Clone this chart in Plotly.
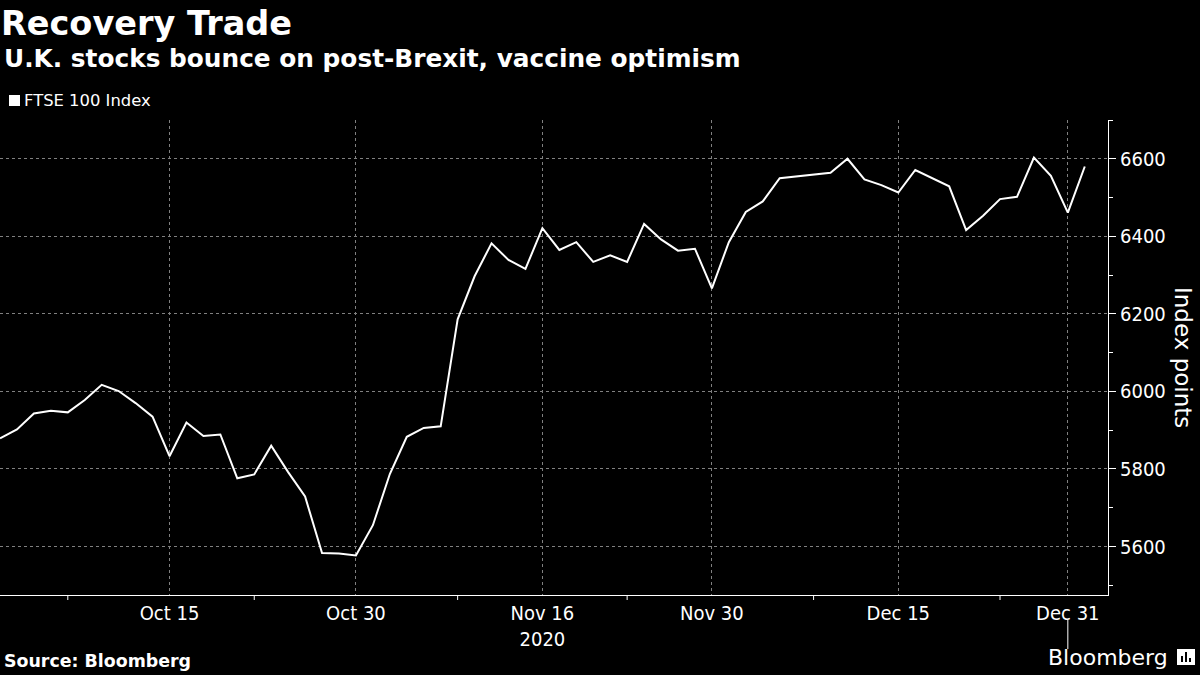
import plotly.graph_objects as go

# FTSE 100 daily closes, trading days only (UK calendar)
dates = [
    "2020-10-01", "2020-10-02", "2020-10-05", "2020-10-06", "2020-10-07", "2020-10-08",
    "2020-10-09", "2020-10-12", "2020-10-13", "2020-10-14", "2020-10-15", "2020-10-16",
    "2020-10-19", "2020-10-20", "2020-10-21", "2020-10-22", "2020-10-23", "2020-10-26",
    "2020-10-27", "2020-10-28", "2020-10-29", "2020-10-30",
    "2020-11-02", "2020-11-03", "2020-11-04", "2020-11-05", "2020-11-06", "2020-11-09",
    "2020-11-10", "2020-11-11", "2020-11-12", "2020-11-13", "2020-11-16", "2020-11-17",
    "2020-11-18", "2020-11-19", "2020-11-20", "2020-11-23", "2020-11-24", "2020-11-25",
    "2020-11-26", "2020-11-27", "2020-11-30",
    "2020-12-01", "2020-12-02", "2020-12-03", "2020-12-04", "2020-12-07", "2020-12-08",
    "2020-12-09", "2020-12-10", "2020-12-11", "2020-12-14", "2020-12-15", "2020-12-16",
    "2020-12-17", "2020-12-18", "2020-12-21", "2020-12-22", "2020-12-23", "2020-12-24",
    "2020-12-29", "2020-12-30", "2020-12-31",
    "2021-01-04",
]
ftse = [
    5879, 5902, 5943, 5950, 5946, 5978, 6017, 6001, 5970, 5935, 5833, 5920,
    5885, 5889, 5776, 5786, 5860, 5792, 5729, 5583, 5582, 5577,
    5655, 5787, 5883, 5906, 5910, 6186, 6297, 6382, 6339, 6316, 6421, 6365,
    6385, 6334, 6351, 6334, 6432, 6392, 6363, 6368, 6266,
    6385, 6463, 6490, 6550, 6555, 6559, 6564, 6600, 6547, 6532, 6513, 6571,
    6551, 6529, 6416, 6453, 6496, 6502, 6603, 6556, 6461,
    6580,
]

tick_dates = ["2020-10-15", "2020-10-30", "2020-11-16", "2020-11-30", "2020-12-15", "2020-12-31"]
tick_labels = ["Oct 15", "Oct 30", "Nov 16<br>2020", "Nov 30", "Dec 15", "Dec 31"]
minor_dates = ["2020-10-07", "2020-10-22", "2020-11-09", "2020-11-23", "2020-12-08", "2020-12-23"]
year_break = "2020-12-31"

W, H = 1200, 675
L, R, T, B = 0, 92, 120, 80
PW, PH = W - L - R, H - T - B


def px(x, y):
    # pixel position -> paper coords
    return (x - L) / PW, (H - B - y) / PH


tick_font = dict(family="DejaVu Sans Condensed, DejaVu Sans", size=20, color="white")
grid = dict(showgrid=True, gridcolor="#808080", gridwidth=1, griddash="dot")

fig = go.Figure()
fig.add_trace(go.Scatter(
    x=dates, y=ftse, mode="lines", name="FTSE 100 Index",
    line=dict(color="white", width=2), showlegend=False,
))

fig.update_layout(
    width=W, height=H,
    margin=dict(l=L, r=R, t=T, b=B),
    paper_bgcolor="black", plot_bgcolor="black",
    xaxis=dict(
        type="category", range=[0, 65.37],
        tickmode="array", tickvals=tick_dates, ticktext=tick_labels,
        ticks="", showline=True, linecolor="white", linewidth=1,
        tickfont=tick_font, zeroline=False, **grid,
    ),
    yaxis=dict(
        side="right", range=[5475, 6700], tick0=5600, dtick=200,
        ticks="outside", ticklen=7, tickcolor="white",
        showline=True, linecolor="white", linewidth=1,
        tickfont=tick_font, zeroline=False,
        minor=dict(tick0=5500, dtick=100, ticks="outside", ticklen=4,
                   tickcolor="white", showgrid=False),
        **grid,
    ),
)


def rect(x0, y0, x1, y1, color="white"):
    a, b = px(x0, y1)
    c, d = px(x1, y0)
    return dict(type="rect", xref="paper", yref="paper", x0=a, y0=b, x1=c, y1=d,
                fillcolor=color, line=dict(width=0))


shapes = []
for d in minor_dates:
    i = dates.index(d)
    shapes.append(dict(type="line", xref="x", yref="paper", x0=i, x1=i,
                       y0=0, y1=-5 / PH, line=dict(color="white", width=1)))
i = dates.index(year_break)
shapes.append(dict(type="line", xref="x", yref="paper", x0=i, x1=i,
                   y0=px(0, 620)[1], y1=px(0, 649)[1], line=dict(color="white", width=1)))
# legend square
shapes.append(rect(9, 95, 20, 106))
# logo mark with bars
shapes.append(rect(1177, 649, 1195, 665))
shapes.append(rect(1181, 656, 1183, 662, "black"))
shapes.append(rect(1185, 652, 1187, 662, "black"))
shapes.append(rect(1189, 658, 1191, 662, "black"))
fig.update_layout(shapes=shapes)


def note(text, x, y, size, anchor="left", bold=False, family="DejaVu Sans", angle=0):
    ax, ay = px(x, y)
    if bold:
        text = f"<b>{text}</b>"
    fig.add_annotation(text=text, x=ax, y=ay, xref="paper", yref="paper",
                       xanchor=anchor, yanchor="middle", showarrow=False,
                       textangle=angle,
                       font=dict(family=family, size=size, color="white"))


note("Recovery Trade", -1, 24, 33.5, bold=True)
note("U.K. stocks bounce on post-Brexit, vaccine optimism", 2, 59, 24.8, bold=True)
note("FTSE 100 Index", 22, 100, 16.4)
note("Source: Bloomberg", 2, 661, 17.4, bold=True)
note("Bloomberg", 1170, 657, 22, anchor="right")
note("Index points", 1183, 357, 23, anchor="center", angle=90)

fig.write_html("out.html", config={"displayModeBar": False},
               post_script="document.body.style.margin='0';")
